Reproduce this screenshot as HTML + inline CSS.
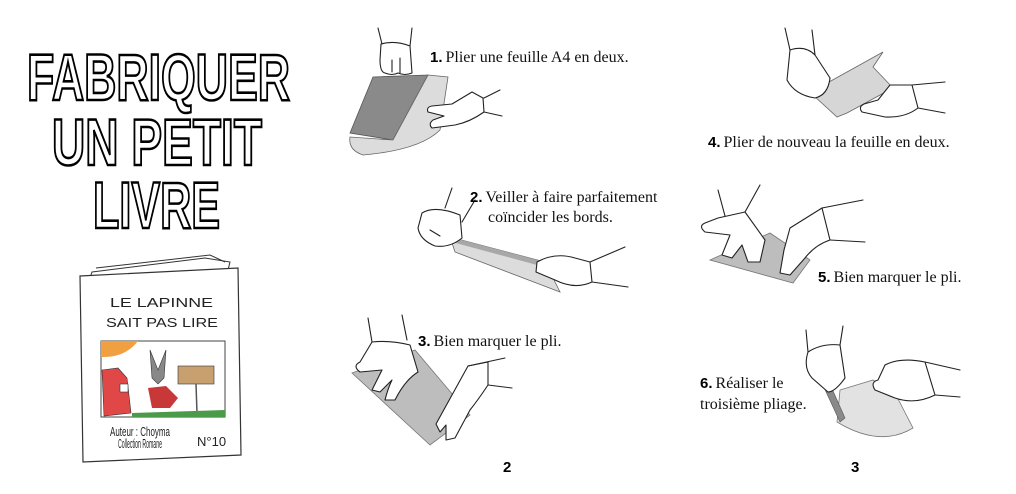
<!DOCTYPE html>
<html><head><meta charset="utf-8">
<style>
html,body{margin:0;padding:0;background:#fff;}
body{width:1016px;height:494px;overflow:hidden;position:relative;}
svg{position:absolute;left:0;top:0;}
.t{font-family:"Liberation Serif",serif;font-size:16px;fill:#111;}
.n{font-family:"Liberation Sans",sans-serif;font-weight:bold;font-size:15px;fill:#000;}
.h{fill:#fff;stroke:#222;stroke-width:1.1;stroke-linejoin:round;stroke-linecap:round;}
.l{fill:none;stroke:#222;stroke-width:1.1;stroke-linecap:round;}
.ti{font-family:"Liberation Sans",sans-serif;font-weight:bold;font-size:66px;fill:#fff;stroke:#000;stroke-width:2.6;}
.bk{font-family:"Liberation Sans",sans-serif;font-size:13px;fill:#222;}
</style></head><body>
<svg width="1016" height="494" viewBox="0 0 1016 494">
<!-- Title -->
<g>
<text class="ti" x="27" y="100" textLength="263" lengthAdjust="spacingAndGlyphs">FABRIQUER</text>
<text class="ti" x="52" y="165" textLength="210" lengthAdjust="spacingAndGlyphs">UN  PETIT</text>
<text class="ti" x="93" y="228" textLength="127" lengthAdjust="spacingAndGlyphs">LIVRE</text>
</g>
<!-- Book -->
<g>
<path d="M92 272 L205 258 L230 262 L228 270 L90 278 Z" fill="#fff" stroke="#333" stroke-width="1"/>
<path d="M96 268 L210 255 L225 262" fill="none" stroke="#333"/>
<path d="M80 276 L238 268 L241 455 L83 462 Z" fill="#fff" stroke="#333" stroke-width="1.2"/>
<text class="bk" x="110" y="307" textLength="103" lengthAdjust="spacingAndGlyphs" font-size="14">LE LAPINNE</text>
<text class="bk" x="106" y="327" textLength="112" lengthAdjust="spacingAndGlyphs" font-size="14">SAIT PAS LIRE</text>
<rect x="101" y="341" width="124" height="76" fill="#fff" stroke="#444"/>
<path d="M101 341 L101 357 Q125 358 138 341 Z" fill="#f0a040"/>
<path d="M102 370 L118 368 L127 378 L131 413 L104 416 Z" fill="#e04848" stroke="#333" stroke-width=".6"/>
<rect x="120" y="384" width="8" height="8" fill="#fff" stroke="#333" stroke-width=".6"/>
<path d="M150 350 L158 370 L166 350 L164 378 L158 384 L152 378 Z" fill="#888" stroke="#333" stroke-width=".6"/>
<path d="M148 388 L166 386 L178 398 L170 408 L152 408 Z" fill="#c83838"/>
<rect x="178" y="366" width="36" height="18" fill="#c8a070" stroke="#333" stroke-width=".6"/>
<line x1="196" y1="384" x2="197" y2="413" stroke="#555" stroke-width="1.5"/>
<path d="M132 413 L225 410 L225 417 L132 417 Z" fill="#4a9a4a"/>
<text class="bk" x="110" y="436" font-size="9" textLength="60" lengthAdjust="spacingAndGlyphs">Auteur : Choyma</text>
<text class="bk" x="118" y="448" font-size="8" textLength="44" lengthAdjust="spacingAndGlyphs">Collection Romane</text>
<text class="bk" x="197" y="446" font-size="10">N°10</text>
</g>

<!-- Step 1 -->
<path d="M373 77 L428 75 L393 140 L350 133 Z" fill="#8a8a8a" stroke="#555" stroke-width=".8"/>
<path d="M428 75 L448 77 L440 130 Q420 150 363 155 Q348 150 350 137 L393 140 Z" fill="#dcdcdc" stroke="#666" stroke-width=".8"/>
<path class="h" d="M381 44 Q395 40 410 46 L412 73 Q405 76 398 73 Q392 76 385 73 Q380 72 380 60 Z"/>
<path class="l" d="M382 44 L378 28 M410 46 L412 28 M392 60 L392 72 M400 58 L400 73"/>
<path class="h" d="M472 92 L483 98 L484 112 Q470 122 455 125 L432 128 Q428 124 433 120 L444 116 L428 112 Q426 107 432 106 L452 104 Z"/>
<path class="l" d="M484 98 L500 90 M484 112 L502 116"/>
<text x="430" y="62"><tspan class="n">1.</tspan><tspan class="t" dx="3">Plier une feuille A4 en deux.</tspan></text>

<!-- Step 2 -->
<path d="M450 237 L545 262 L560 292 L455 252 Z" fill="#dcdcdc" stroke="#666" stroke-width=".8"/>
<path d="M450 237 L545 262 L548 268 L452 242 Z" fill="#a8a8a8"/>
<path class="h" d="M422 213 Q435 205 460 215 L462 238 Q450 248 435 246 Q420 240 418 228 Z"/>
<path class="l" d="M445 208 L452 188 M462 222 L475 200 M430 230 L440 236"/>
<path class="h" d="M537 262 Q555 252 575 258 L590 262 L592 282 Q575 290 555 280 L536 272 Z"/>
<path class="l" d="M590 262 L625 247 M592 282 L628 287"/>
<text x="470" y="202"><tspan class="n">2.</tspan><tspan class="t" dx="3">Veiller à faire parfaitement</tspan></text>
<text class="t" x="488" y="222">coïncider les bords.</text>

<!-- Step 3 -->
<path d="M352 373 L415 350 L470 415 L430 445 Z" fill="#bdbdbd" stroke="#777" stroke-width=".8"/>
<path class="h" d="M372 342 Q390 340 410 345 L418 372 Q405 380 395 400 L385 400 Q388 388 392 380 L380 392 L372 390 L382 370 L360 372 Q352 366 360 362 Z"/>
<path class="l" d="M372 342 L368 318 M407 340 L402 315"/>
<path class="h" d="M468 366 L488 362 L488 385 Q478 400 470 410 L455 438 L446 440 L446 425 L440 432 L436 424 L452 395 Z"/>
<path class="l" d="M468 366 L505 358 M488 385 L512 388"/>
<text x="418" y="346"><tspan class="n">3.</tspan><tspan class="t" dx="3">Bien marquer le pli.</tspan></text>

<!-- Step 4 -->
<path d="M820 87 L883 52 L873 67 L893 88 L847 113 L837 117 L813 95 Z" fill="#d6d6d6" stroke="#666" stroke-width=".8"/>
<path class="h" d="M790 50 Q805 45 815 55 L830 78 Q828 95 815 98 Q795 95 787 80 Z"/>
<path class="l" d="M790 50 L785 28 M815 55 L812 30"/>
<path class="h" d="M890 85 L912 85 L918 108 Q905 118 885 117 L862 112 Q858 107 864 104 L878 100 Z"/>
<path class="l" d="M912 85 L945 82 M918 108 L945 113"/>
<text x="708" y="147"><tspan class="n">4.</tspan><tspan class="t" dx="3">Plier de nouveau la feuille en deux.</tspan></text>

<!-- Step 5 -->
<path d="M710 260 L770 233 L810 260 L793 283 Z" fill="#bdbdbd" stroke="#777" stroke-width=".8"/>
<path class="h" d="M718 218 L745 212 L765 240 L760 262 L748 262 L742 245 L732 258 L722 255 L730 235 L705 232 Q698 226 705 223 Z"/>
<path class="l" d="M725 216 L718 190 M745 212 L760 185"/>
<path class="h" d="M790 228 L822 208 L830 240 Q815 245 805 258 L790 275 L780 273 L784 250 Z"/>
<path class="l" d="M822 208 L863 200 M830 240 L865 242"/>
<text x="818" y="282"><tspan class="n">5.</tspan><tspan class="t" dx="3">Bien marquer le pli.</tspan></text>

<!-- Step 6 -->
<path d="M840 390 L873 380 L897 397 L913 428 Q880 448 837 422 Z" fill="#e2e2e2" stroke="#777" stroke-width=".8"/>
<path d="M815 368 L822 366 L845 418 L840 422 Z" fill="#8a8a8a" stroke="#555" stroke-width=".6"/>
<path class="h" d="M808 352 Q822 343 840 345 L845 378 Q835 392 828 392 L812 378 Q803 368 808 352 Z"/>
<path class="l" d="M808 352 L806 330 M840 345 L843 326"/>
<path class="h" d="M885 365 Q900 357 925 362 L935 395 Q915 405 895 398 L875 390 Q870 382 878 380 Z"/>
<path class="l" d="M925 362 L960 370 M935 395 L960 397"/>
<text x="700" y="388"><tspan class="n">6.</tspan><tspan class="t" dx="3">Réaliser le</tspan></text>
<text class="t" x="700" y="409">troisième pliage.</text>

<!-- Page numbers -->
<text class="n" x="503" y="472" font-size="14">2</text>
<text class="n" x="851" y="472" font-size="14">3</text>
</svg>
</body></html>
